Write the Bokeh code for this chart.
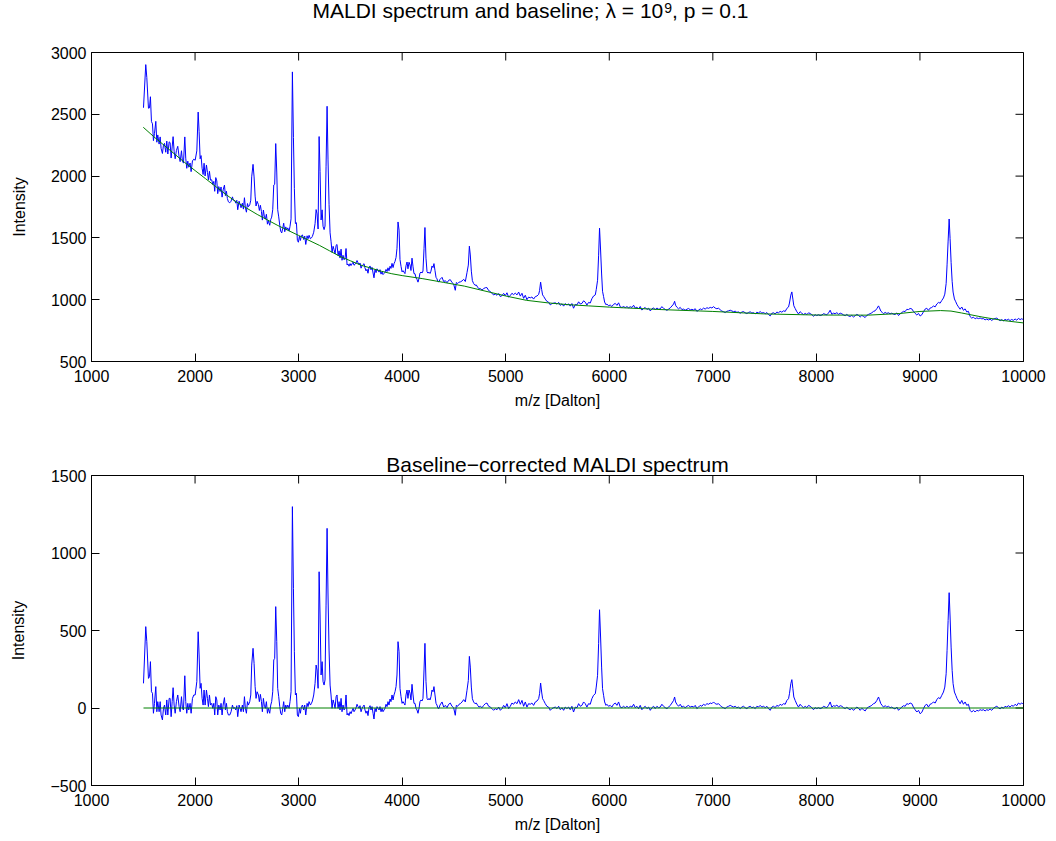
import math
from bokeh.plotting import figure
from bokeh.models import LinearAxis, Range1d, FixedTicker, Label
from bokeh.layouts import column
from bokeh.embed import file_html
from bokeh.resources import INLINE

# ---------------- data ----------------
mz = [
    1502, 1524, 1534, 1550, 1560, 1569, 1579, 1589, 1598, 1608, 1621, 1631, 1640, 1653, 1663, 1672, 1685, 1695,
    1705, 1717, 1727, 1737, 1750, 1759, 1769, 1779, 1788, 1798, 1808, 1820, 1833, 1846, 1856, 1869, 1878, 1888,
    1901, 1910, 1920, 1930, 1939, 1952, 1962, 1975, 1988, 2001, 2017, 2030, 2039, 2049, 2058, 2068, 2078, 2087,
    2097, 2110, 2120, 2129, 2139, 2149, 2161, 2171, 2181, 2190, 2200, 2210, 2219, 2229, 2242, 2251, 2261, 2271,
    2284, 2293, 2303, 2312, 2322, 2335, 2348, 2361, 2370, 2383, 2393, 2403, 2412, 2425, 2435, 2444, 2457, 2467,
    2477, 2486, 2496, 2506, 2515, 2528, 2538, 2547, 2560, 2570, 2580, 2589, 2599, 2612, 2621, 2631, 2641, 2650,
    2660, 2670, 2679, 2689, 2699, 2708, 2721, 2731, 2740, 2750, 2760, 2769, 2779, 2789, 2798, 2808, 2818, 2827,
    2837, 2847, 2856, 2866, 2876, 2885, 2895, 2908, 2917, 2927, 2940, 2950, 2959, 2969, 2979, 2988, 2998, 3008,
    3017, 3027, 3037, 3049, 3059, 3069, 3082, 3091, 3101, 3114, 3124, 3133, 3146, 3159, 3169, 3178, 3188, 3198,
    3207, 3217, 3227, 3236, 3246, 3255, 3265, 3275, 3284, 3294, 3304, 3313, 3323, 3333, 3342, 3352, 3362, 3371,
    3381, 3391, 3400, 3410, 3419, 3429, 3439, 3448, 3458, 3468, 3477, 3487, 3497, 3506, 3516, 3526, 3535, 3545,
    3555, 3564, 3574, 3584, 3593, 3603, 3613, 3622, 3632, 3641, 3651, 3661, 3670, 3680, 3690, 3699, 3709, 3719,
    3728, 3738, 3748, 3757, 3767, 3777, 3786, 3796, 3806, 3815, 3825, 3834, 3844, 3854, 3863, 3873, 3883, 3892,
    3902, 3912, 3921, 3931, 3941, 3950, 3960, 3970, 3979, 3989, 3999, 4008, 4018, 4027, 4037, 4047, 4056, 4066,
    4076, 4085, 4095, 4105, 4114, 4124, 4134, 4143, 4153, 4163, 4172, 4182, 4192, 4201, 4211, 4220, 4230, 4240,
    4249, 4259, 4269, 4278, 4288, 4298, 4307, 4317, 4327, 4336, 4346, 4356, 4365, 4385, 4401, 4417, 4433, 4449,
    4465, 4481, 4497, 4513, 4523, 4536, 4549, 4562, 4578, 4594, 4610, 4626, 4639, 4649, 4658, 4668, 4678, 4690,
    4703, 4716, 4729, 4742, 4755, 4771, 4787, 4803, 4819, 4835, 4851, 4867, 4883, 4899, 4916, 4932, 4948, 4964,
    4980, 4996, 5012, 5028, 5044, 5060, 5076, 5092, 5109, 5125, 5141, 5157, 5173, 5189, 5205, 5221, 5237, 5253,
    5269, 5286, 5302, 5318, 5327, 5337, 5347, 5356, 5366, 5382, 5398, 5414, 5430, 5446, 5462, 5479, 5495, 5511,
    5527, 5543, 5559, 5575, 5591, 5607, 5623, 5639, 5655, 5672, 5688, 5704, 5720, 5736, 5752, 5768, 5784, 5800,
    5816, 5832, 5848, 5865, 5874, 5887, 5897, 5906, 5916, 5926, 5935, 5945, 5955, 5968, 5977, 5993, 6009, 6025,
    6041, 6058, 6074, 6090, 6106, 6122, 6138, 6154, 6170, 6186, 6203, 6219, 6235, 6251, 6267, 6283, 6299, 6315,
    6331, 6347, 6364, 6380, 6396, 6412, 6428, 6444, 6460, 6476, 6492, 6508, 6524, 6541, 6557, 6573, 6589, 6605,
    6621, 6631, 6640, 6653, 6669, 6685, 6701, 6717, 6733, 6750, 6766, 6782, 6798, 6814, 6830, 6846, 6862, 6878,
    6894, 6910, 6926, 6943, 6959, 6975, 6991, 7007, 7023, 7039, 7055, 7071, 7087, 7103, 7119, 7135, 7152, 7168,
    7184, 7200, 7216, 7232, 7248, 7264, 7280, 7296, 7312, 7329, 7345, 7361, 7377, 7393, 7409, 7425, 7441, 7457,
    7473, 7490, 7506, 7522, 7538, 7554, 7570, 7586, 7602, 7618, 7634, 7650, 7666, 7683, 7699, 7715, 7731, 7740,
    7753, 7763, 7773, 7782, 7795, 7811, 7827, 7843, 7859, 7876, 7892, 7908, 7924, 7940, 7956, 7972, 7988, 8004,
    8020, 8036, 8053, 8069, 8085, 8101, 8117, 8133, 8149, 8165, 8181, 8198, 8214, 8230, 8246, 8262, 8278, 8294,
    8310, 8326, 8342, 8358, 8375, 8391, 8407, 8423, 8439, 8455, 8471, 8487, 8503, 8519, 8535, 8551, 8567, 8584,
    8600, 8609, 8622, 8635, 8648, 8664, 8680, 8696, 8712, 8728, 8744, 8760, 8777, 8793, 8809, 8825, 8841, 8857,
    8873, 8889, 8905, 8921, 8937, 8953, 8970, 8986, 9002, 9018, 9034, 9050, 9066, 9082, 9098, 9114, 9130, 9147,
    9163, 9179, 9195, 9211, 9227, 9240, 9253, 9262, 9272, 9282, 9291, 9301, 9311, 9320, 9333, 9346, 9359, 9372,
    9388, 9404, 9420, 9436, 9452, 9468, 9484, 9500, 9517, 9533, 9549, 9565, 9581, 9597, 9613, 9629, 9645, 9661,
    9677, 9693, 9710, 9726, 9742, 9758, 9774, 9790, 9806, 9822, 9838, 9854, 9870, 9886, 9902, 9919, 9935, 9951,
    9967, 9983, 9993, 10000,
]

intensity = [
    2553, 2902, 2798, 2549, 2552, 2642, 2441, 2423, 2287, 2344, 2443, 2274, 2333, 2259, 2317, 2225, 2183, 2251,
    2265, 2193, 2283, 2179, 2277, 2271, 2146, 2236, 2319, 2200, 2140, 2207, 2241, 2157, 2117, 2205, 2123, 2105,
    2317, 2145, 2063, 2121, 2072, 2106, 2036, 2123, 2137, 2128, 2204, 2518, 2362, 2140, 2166, 2063, 2013, 2104,
    2001, 2090, 2029, 1970, 2039, 1967, 1970, 1932, 1957, 1877, 1988, 1961, 1858, 1915, 1875, 1912, 1830, 1888,
    1927, 1842, 1878, 1819, 1792, 1784, 1797, 1832, 1806, 1802, 1781, 1804, 1728, 1797, 1771, 1744, 1781, 1733,
    1825, 1745, 1708, 1778, 1752, 1767, 1805, 1994, 2095, 1993, 1838, 1758, 1796, 1769, 1722, 1764, 1713, 1644,
    1725, 1668, 1652, 1691, 1611, 1639, 1602, 1650, 1668, 1728, 1928, 1934, 2263, 2033, 1728, 1670, 1602, 1555,
    1540, 1579, 1619, 1550, 1589, 1564, 1581, 1555, 1594, 1654, 2843, 2312, 1899, 1616, 1623, 1480, 1465, 1515,
    1479, 1518, 1524, 1487, 1515, 1447, 1517, 1493, 1521, 1493, 1500, 1512, 1546, 1615, 1729, 1694, 1572, 2320,
    2037, 1645, 1727, 1594, 1567, 1596, 2075, 2565, 2131, 1772, 1541, 1473, 1383, 1432, 1406, 1370, 1440, 1447,
    1357, 1395, 1337, 1409, 1319, 1359, 1323, 1331, 1414, 1281, 1289, 1271, 1292, 1276, 1290, 1304, 1279, 1286,
    1298, 1317, 1298, 1284, 1297, 1255, 1275, 1284, 1291, 1257, 1233, 1246, 1214, 1262, 1273, 1242, 1262, 1216,
    1177, 1244, 1219, 1250, 1236, 1223, 1243, 1207, 1227, 1203, 1212, 1221, 1245, 1228, 1258, 1234, 1271, 1253,
    1294, 1260, 1291, 1310, 1342, 1416, 1629, 1563, 1325, 1270, 1225, 1235, 1223, 1211, 1274, 1305, 1250, 1303,
    1281, 1236, 1336, 1266, 1211, 1210, 1176, 1164, 1142, 1173, 1215, 1224, 1216, 1232, 1413, 1584, 1336, 1226,
    1215, 1223, 1212, 1231, 1273, 1260, 1292, 1236, 1181, 1169, 1146, 1145, 1164, 1181, 1146, 1154, 1137, 1157,
    1162, 1139, 1127, 1076, 1139, 1131, 1142, 1144, 1152, 1165, 1147, 1219, 1280, 1433, 1362, 1231, 1154, 1131,
    1117, 1119, 1101, 1088, 1090, 1078, 1090, 1097, 1098, 1074, 1066, 1053, 1038, 1046, 1036, 1050, 1025, 1033,
    1051, 1033, 1056, 1021, 1033, 1052, 1041, 1053, 1039, 1062, 1029, 1052, 1011, 1036, 1000, 1021, 1015, 1022,
    1005, 1025, 1030, 1043, 1074, 1142, 1083, 1039, 1027, 1005, 986, 980, 958, 968, 972, 975, 964, 978,
    954, 966, 948, 968, 957, 966, 948, 969, 931, 962, 958, 983, 965, 970, 991, 980, 957, 978,
    973, 1008, 1030, 1039, 1081, 1157, 1360, 1579, 1402, 1208, 1068, 1025, 981, 959, 965, 951, 957, 945,
    962, 970, 954, 975, 942, 937, 945, 936, 944, 935, 943, 937, 955, 932, 940, 925, 945, 916,
    929, 937, 921, 931, 909, 926, 934, 918, 933, 923, 926, 944, 930, 921, 914, 924, 934, 949,
    965, 987, 955, 939, 926, 938, 920, 924, 915, 923, 929, 918, 922, 917, 927, 906, 915, 926,
    919, 932, 924, 935, 930, 938, 933, 944, 932, 927, 931, 919, 908, 903, 896, 906, 910, 915,
    909, 903, 907, 898, 901, 890, 900, 904, 894, 888, 897, 902, 892, 895, 885, 899, 893, 904,
    892, 896, 887, 896, 880, 869, 890, 894, 885, 900, 894, 906, 899, 910, 905, 930, 941, 973,
    1037, 1063, 1005, 951, 929, 903, 885, 903, 890, 880, 889, 880, 894, 888, 879, 866, 878, 872,
    878, 872, 876, 887, 882, 878, 893, 915, 882, 891, 887, 895, 882, 891, 886, 877, 871, 881,
    869, 864, 873, 860, 871, 881, 873, 860, 873, 864, 856, 873, 881, 887, 894, 905, 910, 928,
    950, 934, 908, 898, 887, 897, 889, 894, 886, 891, 883, 880, 893, 872, 885, 896, 906, 904,
    922, 920, 929, 926, 906, 890, 876, 889, 868, 878, 902, 924, 931, 914, 932, 937, 949, 942,
    965, 978, 972, 994, 1014, 1045, 1131, 1282, 1474, 1653, 1495, 1301, 1149, 1062, 1006, 983, 959, 942,
    923, 941, 914, 926, 901, 906, 864, 851, 859, 845, 853, 847, 852, 845, 847, 837, 843, 836,
    843, 832, 843, 848, 851, 840, 830, 839, 829, 841, 834, 842, 831, 840, 833, 844, 834, 849,
    839, 846, 841, 837,
]

corrected = [
    159, 525, 428, 191, 202, 299, 105, 95, -34, 30, 138, -24, 41, -24, 41, -45, -77, -2,
    19, -45, 52, -45, 62, 62, -56, 41, 131, 19, -34, 41, 84, 9, -24, 73, -2, -13,
    208, 41, -34, 30, -13, 30, -34, 62, 84, 84, 170, 492, 342, 127, 159, 62, 19, 116,
    19, 116, 62, 9, 84, 19, 30, -2, 30, -45, 73, 52, -45, 19, -13, 30, -45, 19,
    67, -13, 30, -24, -45, -45, -24, 19, -2, 2, -13, 15, -56, 19, -2, -24, 19, -24,
    73, -2, -34, 41, 19, 41, 84, 277, 385, 288, 138, 62, 105, 84, 41, 88, 41, -24,
    62, 9, -2, 41, -34, -2, -34, 19, 41, 105, 310, 320, 654, 428, 127, 73, 9, -34,
    -45, -2, 41, -24, 19, -2, 19, -2, 41, 105, 1299, 772, 363, 84, 95, -45, -56, -2,
    -34, 9, 19, -13, 19, -45, 30, 9, 41, 19, 30, 45, 84, 159, 277, 245, 127, 879,
    600, 213, 299, 170, 148, 181, 664, 1159, 729, 374, 148, 84, -2, 52, 30, -2, 73, 84,
    -2, 41, -13, 62, -24, 19, -13, -2, 84, -45, -34, -49, -24, -37, -19, -2, -24, -13,
    2, 24, 9, -2, 15, -24, -2, 9, 19, -13, -34, -19, -49, 2, 15, -13, 9, -34,
    -71, -2, -24, 9, -2, -13, 9, -24, -2, -24, -13, -2, 24, 9, 41, 19, 58, 41,
    84, 52, 84, 105, 138, 213, 428, 363, 127, 73, 30, 41, 30, 19, 84, 116, 62, 116,
    95, 52, 153, 84, 30, 30, -2, -13, -34, -2, 41, 52, 45, 62, 245, 417, 170, 62,
    52, 62, 52, 73, 116, 105, 138, 84, 30, 19, -2, -2, 19, 39, 6, 17, 2, 24,
    32, 11, 2, -47, 17, 11, 24, 28, 39, 54, 39, 114, 178, 333, 264, 135, 60, 39,
    28, 32, 17, 6, 11, 2, 17, 28, 32, 11, 6, -4, -15, -4, -11, 6, -15, -4,
    17, 2, 28, -4, 11, 32, 24, 39, 28, 54, 24, 49, 11, 39, 6, 28, 24, 32,
    17, 39, 45, 60, 92, 161, 103, 60, 49, 28, 11, 6, -15, -4, 2, 6, -4, 11,
    -11, 2, -15, 6, -4, 6, -11, 11, -26, 6, 2, 28, 11, 17, 39, 28, 6, 28,
    24, 60, 82, 92, 135, 211, 415, 634, 458, 264, 125, 82, 39, 17, 24, 11, 17, 6,
    24, 32, 17, 39, 6, 2, 11, 2, 11, 2, 11, 6, 24, 2, 11, -4, 17, -11,
    2, 11, -4, 6, -15, 2, 11, -4, 11, 2, 6, 24, 11, 2, -4, 6, 17, 32,
    49, 71, 39, 24, 11, 24, 6, 11, 2, 11, 17, 6, 11, 6, 17, -4, 6, 17,
    11, 24, 17, 28, 24, 32, 28, 39, 28, 24, 28, 17, 6, 2, -4, 6, 11, 17,
    11, 6, 11, 2, 6, -4, 6, 11, 2, -4, 6, 11, 2, 6, -4, 11, 6, 17,
    6, 11, 2, 11, -4, -15, 6, 11, 2, 17, 11, 24, 17, 28, 24, 49, 60, 92,
    157, 183, 125, 71, 49, 24, 6, 24, 11, 2, 11, 2, 17, 11, 2, -11, 2, -4,
    2, -4, 0, 11, 6, 2, 17, 39, 6, 15, 11, 19, 6, 15, 11, 2, -4, 6,
    -6, -11, -2, -15, -4, 6, -2, -15, -2, -11, -19, -2, 6, 11, 17, 28, 32, 49,
    71, 54, 28, 17, 6, 15, 6, 11, 2, 6, -2, -6, 6, -15, -4, 6, 15, 11,
    28, 24, 32, 28, 6, -11, -26, -15, -37, -28, -4, 17, 24, 6, 24, 28, 39, 32,
    54, 67, 60, 82, 103, 135, 221, 372, 565, 744, 587, 393, 243, 157, 103, 82, 60, 45,
    28, 49, 24, 39, 17, 24, -15, -26, -15, -26, -15, -19, -11, -15, -11, -19, -11, -15,
    -6, -15, -2, 6, 11, 2, -6, 6, -2, 11, 6, 15, 6, 17, 11, 24, 15, 32,
    24, 32, 28, 25,
]

baseline_mz = [1500, 1600, 1700, 1800, 1900, 2000, 2100, 2200, 2300, 2400, 2500, 2600, 2700, 2800, 2900,
               3000, 3100, 3200, 3300, 3400, 3500, 3600, 3700, 3800, 3900, 4000, 4200, 4400, 4600, 4800,
               5000, 5200, 5400, 5600, 5800, 6000, 6500, 7000, 7500, 8000, 8500, 8800, 9000, 9200, 9300,
               9400, 9600, 9800, 10000]
baseline = [2395, 2320, 2250, 2180, 2110, 2045, 1980, 1915, 1850, 1790, 1740, 1690, 1645, 1600, 1560,
            1520, 1480, 1440, 1395, 1350, 1315, 1280, 1255, 1230, 1210, 1195, 1170, 1140, 1110, 1070,
            1030, 995, 975, 960, 950, 940, 920, 905, 885, 876, 875, 888, 905, 912, 908,
            893, 860, 832, 812]

zero_mz = [1502, 10000]
zero_line = [0, 0]

x_ticks = [1000, 2000, 3000, 4000, 5000, 6000, 7000, 8000, 9000, 10000]
y_ticks_top = [500, 1000, 1500, 2000, 2500, 3000]
y_ticks_bottom = [-500, 0, 500, 1000, 1500]

title_top_main = "MALDI spectrum and baseline; \u03bb = 10"
title_top_sup = "9"
title_top_tail = ", p = 0.1"
title_bottom = "Baseline\u2212corrected MALDI spectrum"
x_label = "m/z [Dalton]"
y_label = "Intensity"

FONT = "Liberation Sans"
TICK_SIZE = "16px"
LABEL_SIZE = "16px"
TITLE_PX = 21
SUP_PX = 14
X0, X1 = 1000, 10000
FRAME_W = 932
PAGE_W = 1056


def style_axis(ax):
    ax.axis_line_color = "black"
    ax.axis_line_width = 1
    ax.major_tick_line_color = "black"
    ax.major_tick_in = 8
    ax.major_tick_out = 0
    ax.minor_tick_line_color = None
    ax.major_label_text_font = FONT
    ax.major_label_text_color = "black"
    ax.major_label_text_font_size = TICK_SIZE
    ax.axis_label_text_font = FONT
    ax.axis_label_text_font_style = "normal"
    ax.axis_label_text_font_size = LABEL_SIZE
    ax.axis_label_text_color = "black"


def title_label(text, x, y, size, align):
    return Label(text=text, x=x, y=y, x_units="screen", y_units="screen",
                 text_font=FONT, text_font_size=f"{size}px", text_color="black",
                 text_align=align, text_baseline="alphabetic")


def make_panel(y0, y1, yticks, frame_h, top_b, bottom_b):
    p = figure(frame_width=FRAME_W, frame_height=frame_h,
               x_range=Range1d(X0, X1), y_range=Range1d(y0, y1),
               x_axis_type=None, y_axis_type=None,
               output_backend="svg", toolbar_location=None,
               min_border_left=91, min_border_right=33,
               min_border_top=top_b, min_border_bottom=bottom_b)
    p.outline_line_color = "black"
    p.outline_line_width = 1
    p.background_fill_color = "white"
    p.border_fill_color = "white"

    bx = LinearAxis(ticker=FixedTicker(ticks=x_ticks), axis_label=x_label)
    style_axis(bx)
    bx.major_label_standoff = 8
    bx.axis_label_standoff = 7
    p.add_layout(bx, "below")

    ly = LinearAxis(ticker=FixedTicker(ticks=yticks), axis_label=y_label)
    style_axis(ly)
    ly.major_label_standoff = 5
    ly.axis_label_standoff = 20
    ly.major_label_overrides = {-500: "\u2212500"}
    p.add_layout(ly, "left")

    # inward tick marks on the top and right edges of the box (the outer half of each dash is clipped)
    p.scatter(x=x_ticks, y=[y1] * len(x_ticks), marker="dash", angle=math.pi / 2, size=16,
              line_color="black", line_width=1)
    p.scatter(x=[X1] * len(yticks), y=yticks, marker="dash", angle=0, size=16,
              line_color="black", line_width=1)
    return p


# ---- strip holding the top title (with a real superscript exponent) ----
# the column layout aligns this strip's frame with the panels' frames (left edge at 91 px)
T_H = 40
t1 = figure(width=PAGE_W, height=T_H, x_range=Range1d(0, PAGE_W), y_range=Range1d(0, T_H),
            x_axis_type=None, y_axis_type=None, output_backend="svg", toolbar_location=None,
            min_border_left=0, min_border_right=0, min_border_top=0, min_border_bottom=0)
t1.outline_line_color = None
t1.background_fill_color = "white"
t1.border_fill_color = "white"
w_main = 16.702 * TITLE_PX
w_sup = 0.556 * SUP_PX + 1
w_tail = 3.642 * TITLE_PX
t_center = 530 - 91
t_left = t_center - (w_main + w_sup + w_tail) / 2
join = t_left + w_main
base_y = 30
t1.add_layout(title_label(title_top_main, join, base_y, TITLE_PX, "right"))
t1.add_layout(title_label(title_top_sup, join + 1, base_y + 3, SUP_PX, "left"))
t1.add_layout(title_label(title_top_tail, join + w_sup, base_y, TITLE_PX, "left"))

# ---- top panel ----
p1 = make_panel(500, 3000, y_ticks_top, 309, 52 - T_H, 59)
p1.line(mz, intensity, line_color="#0000ff", line_width=1)
p1.line(baseline_mz, baseline, line_color="#008000", line_width=1)

# ---- bottom panel ----
p2 = make_panel(-500, 1500, y_ticks_bottom, 310, 55, 56)
p2.title.text = title_bottom
p2.title.align = "center"
p2.title.text_font = FONT
p2.title.text_font_size = f"{TITLE_PX}px"
p2.title.text_font_style = "normal"
p2.title.text_color = "black"
p2.title.standoff = 0
p2.line(mz, corrected, line_color="#0000ff", line_width=1)
p2.line(zero_mz, zero_line, line_color="#008000", line_width=1)

layout = column(t1, p1, p2, spacing=0)
open("out.html", "w").write(file_html(layout, INLINE))
